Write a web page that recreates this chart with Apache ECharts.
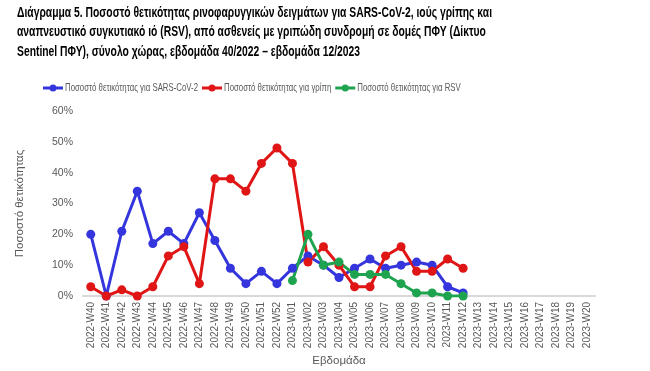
<!DOCTYPE html>
<html>
<head>
<meta charset="utf-8">
<script src="https://cdn.jsdelivr.net/npm/echarts@6/dist/echarts.min.js"></script>
<style>
html,body{margin:0;padding:0;background:#fff;}
#c{width:650px;height:371px;}
</style>
</head>
<body>
<div id="c"></div>
<script>
const weeks = ["2022-W40","2022-W41","2022-W42","2022-W43","2022-W44","2022-W45","2022-W46","2022-W47","2022-W48","2022-W49","2022-W50","2022-W51","2022-W52",
"2023-W01","2023-W02","2023-W03","2023-W04","2023-W05","2023-W06","2023-W07","2023-W08","2023-W09","2023-W10","2023-W11","2023-W12",
"2023-W13","2023-W14","2023-W15","2023-W16","2023-W17","2023-W18","2023-W19","2023-W20"];
const sarsCov2 = [20,0,21,34,17,21,17,27,18,9,4,8,4,9,13,10,6,9,12,9,10,11,10,3,1];
const influenza = [3,0,2,0,3,13,16,4,38,38,34,43,48,43,11,16,10,3,3,13,16,8,8,12,9];
const rsv = [null,null,null,null,null,null,null,null,null,null,null,null,null,5,20,10,11,7,7,7,4,1,1,0,0];

const titleLines = [
 "Διάγραμμα 5. Ποσοστό θετικότητας ρινοφαρυγγικών δειγμάτων για SARS-CoV-2, ιούς γρίπης και",
 "αναπνευστικό συγκυτιακό ιό (RSV), από ασθενείς με γριπώδη συνδρομή σε δομές ΠΦΥ (Δίκτυο",
 "Sentinel ΠΦΥ), σύνολο χώρας, εβδομάδα 40/2022 – εβδομάδα 12/2023"
];
const names = ["Ποσοστό θετικότητας για SARS-CoV-2","Ποσοστό θετικότητας για γρίπη","Ποσοστό θετικότητας για RSV"];
const colors = ["#3535dd","#e01515","#1ea34e"];
const FF = "'Liberation Sans', Arial, sans-serif";

const mctx = document.createElement('canvas').getContext('2d');
function textW(t, font){ mctx.font = font; return mctx.measureText(t).width; }

const titleFont = "bold 15px " + FF;
const titleScale = 475 / textW(titleLines[0], titleFont);
const titleY = [12.5, 32, 51.5];

const legFont = "11.5px " + FF;
const legScale = 133 / textW(names[0], legFont);
const legY = 88;

const graphics = [];
titleLines.forEach((t,i)=>{
  graphics.push({type:'text', x:17, y:titleY[i], scaleX:titleScale, silent:true,
    style:{text:t, font:titleFont, fill:'#000', textVerticalAlign:'middle', verticalAlign:'middle'}});
});
let lx = 43;
names.forEach((n,i)=>{
  graphics.push({type:'line', shape:{x1:lx, y1:legY, x2:lx+20, y2:legY}, style:{stroke:colors[i], lineWidth:3}, silent:true});
  graphics.push({type:'circle', shape:{cx:lx+10, cy:legY, r:3.5}, style:{fill:colors[i]}, silent:true});
  graphics.push({type:'text', x:lx+22, y:legY, scaleX:legScale, silent:true,
    style:{text:n, font:legFont, fill:'#595959', textVerticalAlign:'middle', verticalAlign:'middle'}});
  lx += 22 + textW(n, legFont)*legScale + 4;
});

function mk(name, data, color){
  return {name, type:'line', data, color, symbol:'circle', symbolSize:9,
    lineStyle:{width:3,color}, itemStyle:{color}, connectNulls:false, animation:false};
}

const chart = echarts.init(document.getElementById('c'), null, {renderer:'canvas'});
chart.setOption({
  animation:false,
  graphic:graphics,
  legend:{show:false, data:names},
  grid:{left:83, right:55, top:111, bottom:75},
  xAxis:{type:'category', data:weeks, boundaryGap:true,
    name:'Εβδομάδα', nameLocation:'middle', nameGap:59,
    nameTextStyle:{fontFamily:FF, fontSize:11.5, color:'#595959'},
    axisLine:{lineStyle:{color:'#d9d9d9', width:2}},
    axisTick:{show:false},
    axisLabel:{rotate:90, interval:0, fontFamily:FF, fontSize:10, color:'#595959', margin:6}},
  yAxis:{type:'value', min:0, max:60, interval:10,
    name:'Ποσοστό θετικότητας', nameLocation:'middle', nameGap:57,
    nameTextStyle:{fontFamily:FF, fontSize:11.5, color:'#595959'},
    axisLine:{show:false}, axisTick:{show:false}, splitLine:{show:false},
    axisLabel:{formatter:v=>v+'%', fontFamily:FF, fontSize:10.5, color:'#595959', margin:10}},
  series:[mk(names[0],sarsCov2,colors[0]), mk(names[1],influenza,colors[1]), mk(names[2],rsv,colors[2])]
});
</script>
</body>
</html>
